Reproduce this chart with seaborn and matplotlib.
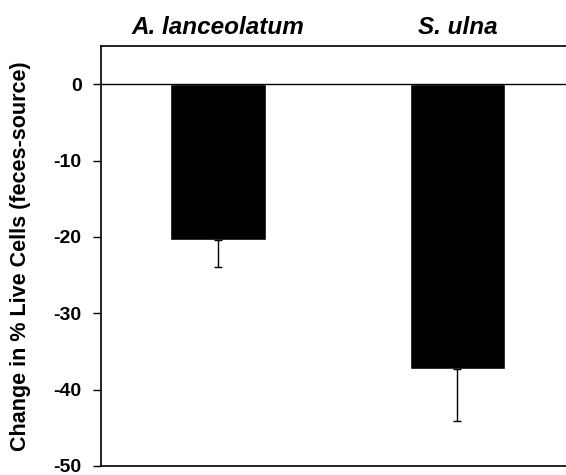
import numpy as np
import pandas as pd
import matplotlib
matplotlib.use('Agg')
import matplotlib.pyplot as plt
import seaborn as sns

# values
species = ['A. lanceolatum', 'S. ulna']
change = [-20.4, -37.3]
sem = [3.6, 6.8]
yticks = [0, -10, -20, -30, -40, -50]

data = pd.DataFrame({'species': species, 'change': change})

sns.set_style('white')
plt.rcParams['font.family'] = ['Liberation Sans', 'DejaVu Sans']
plt.rcParams['text.color'] = 'black'
plt.rcParams['axes.labelcolor'] = 'black'
plt.rcParams['xtick.color'] = 'black'
plt.rcParams['ytick.color'] = 'black'

fig = plt.figure(figsize=(5.66, 4.75), dpi=100)
# axes runs past the right edge like the scanned figure
ax = fig.add_axes([101/566, 1 - 466/475, (577 - 101)/566, (466 - 46)/475])

sns.barplot(data=data, x='species', y='change', color='black', width=0.4,
            saturation=1, ax=ax, errorbar=None)
ax.errorbar(range(len(species)), change, yerr=[sem, [0]*len(sem)],
            fmt='none', ecolor='black', elinewidth=1, capsize=3, capthick=1)

ax.axhline(0, color='black', lw=1)
ax.set_ylim(-50, 5)
ax.set_xlim(-0.49, 1.5)
ax.set_yticks(yticks)
ax.set_yticklabels([str(t) for t in yticks], fontsize=14, fontweight='bold')

ax.xaxis.tick_top()
ax.set_xticks(range(len(species)))
ax.set_xticklabels(species, fontsize=17.5, fontweight='bold', fontstyle='italic')
ax.tick_params(axis='x', length=0, pad=5)
ax.tick_params(axis='y', left=True, length=6, width=1, direction='out', pad=8)
ax.set_xlabel('')
ax.set_ylabel('Change in % Live Cells (feces-source)', fontsize=15.5, fontweight='bold')
ax.yaxis.set_label_coords(-0.147, 0.5)

for side in ['left', 'top', 'bottom']:
    ax.spines[side].set_color('black')
    ax.spines[side].set_linewidth(1.2)
ax.spines['right'].set_visible(False)

fig.savefig('out.png', dpi=100)
